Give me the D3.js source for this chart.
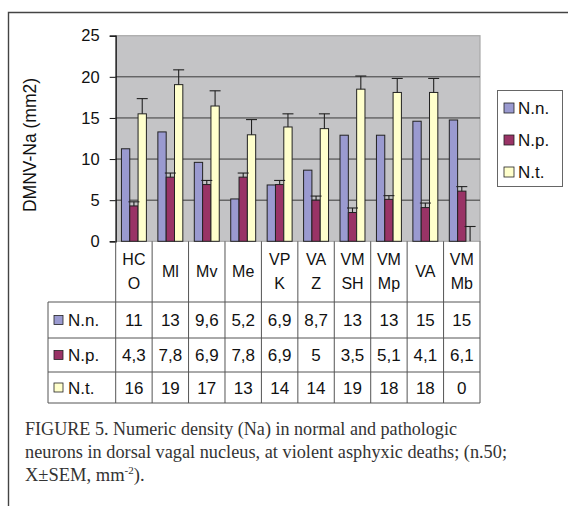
<!DOCTYPE html>
<html>
<head>
<meta charset="utf-8">
<script src="https://cdn.jsdelivr.net/npm/d3@7"></script>
<style>
  body { margin: 0; background: #fff; }
  svg { display: block; }
</style>
</head>
<body>
<svg id="chart" width="568" height="506"></svg>
<script>
// categories (header text split into lines as printed)
const categories = ['HCO', 'Ml', 'Mv', 'Me', 'VPK', 'VAZ', 'VMSH', 'VMMp', 'VA', 'VMMb'];
const headerLines = [['HC', 'O'], ['Ml'], ['Mv'], ['Me'], ['VP', 'K'], ['VA', 'Z'], ['VM', 'SH'], ['VM', 'Mp'], ['VA'], ['VM', 'Mb']];
const seriesNames = ['N.n.', 'N.p.', 'N.t.'];
const seriesColors = ['#9a9ad0', '#993366', '#ffffcc'];

// bar values
const nn = [11.25, 13.3, 9.6, 5.15, 6.85, 8.65, 12.9, 12.9, 14.6, 14.75];
const np = [4.3, 7.8, 6.9, 7.8, 6.9, 5.0, 3.5, 5.1, 4.1, 6.1];
const nt = [15.5, 19.05, 16.45, 12.95, 13.9, 13.7, 18.5, 18.1, 18.1, 0];
// SEM (no visible error bars on N.n.)
const npErr = [0.5, 0.5, 0.5, 0.5, 0.5, 0.5, 0.55, 0.45, 0.55, 0.55];
const ntErr = [1.85, 1.8, 1.85, 1.85, 1.6, 1.8, 1.6, 1.7, 1.7, 1.8];

// data table text as printed
const nnText = ['11', '13', '9,6', '5,2', '6,9', '8,7', '13', '13', '15', '15'];
const npText = ['4,3', '7,8', '6,9', '7,8', '6,9', '5', '3,5', '5,1', '4,1', '6,1'];
const ntText = ['16', '19', '17', '13', '14', '14', '19', '18', '18', '0'];

const yTicks = [0, 5, 10, 15, 20, 25];
const captionLines = [
  'FIGURE 5.  Numeric density (Na) in normal and pathologic',
  'neurons in dorsal vagal nucleus, at violent asphyxic deaths; (n.50;'
];

const svg = d3.select('#chart');
const font = '"Liberation Sans", Arial, sans-serif';
const serif = '"Liberation Serif", "Times New Roman", serif';

const plot = { left: 115.7, right: 480, top: 35.7, bottom: 241.3 };
const tableRows = [302, 338, 372, 403];
const tableLeft = 48;

const x = d3.scaleBand().domain(categories).range([plot.left, plot.right]).padding(0);
const x1 = d3.scaleBand().domain(seriesNames).range([0, x.bandwidth()]).paddingInner(0).paddingOuter(0.69);
const y = d3.scaleLinear().domain([0, 25]).range([plot.bottom, plot.top]);

// outer frame
svg.append('path')
  .attr('d', `M8.5,506 V12.5 H568`)
  .attr('fill', 'none')
  .attr('stroke', '#444')
  .attr('stroke-width', 1.4);

// plot background
svg.append('rect')
  .attr('x', plot.left).attr('y', plot.top)
  .attr('width', plot.right - plot.left).attr('height', plot.bottom - plot.top)
  .attr('fill', '#c4c4c6')
  .attr('stroke', '#a8a8a8')
  .attr('stroke-width', 1.2);

// gridlines
svg.append('g')
  .selectAll('line')
  .data(yTicks.filter(d => d > 0 && d < 25))
  .join('line')
  .attr('x1', plot.left).attr('x2', plot.right)
  .attr('y1', d => y(d)).attr('y2', d => y(d))
  .attr('stroke', '#2a2a2a')
  .attr('stroke-width', 0.9);

// y axis
const yAxis = svg.append('g')
  .attr('transform', `translate(${plot.left},0)`)
  .call(d3.axisLeft(y).tickValues(yTicks).tickSize(6).tickPadding(10));
yAxis.select('.domain').attr('stroke', '#111').attr('stroke-width', 1.2);
yAxis.selectAll('.tick line').attr('stroke', '#111');
yAxis.selectAll('.tick text')
  .attr('font-family', font)
  .attr('font-size', 16.5)
  .attr('fill', '#111');

svg.append('text')
  .attr('transform', 'translate(36,145) rotate(-90)')
  .attr('text-anchor', 'middle')
  .attr('font-family', font)
  .attr('font-size', 17.5)
  .attr('fill', '#111')
  .text('DMNV-Na (mm2)');

// bars
const seriesValues = [nn, np, nt];
const seriesErr = [null, npErr, ntErr];
const barData = [];
categories.forEach((c, i) => {
  seriesNames.forEach((s, k) => {
    barData.push({ cat: c, series: s, k, value: seriesValues[k][i], err: seriesErr[k] ? seriesErr[k][i] : null });
  });
});

svg.append('g')
  .selectAll('rect')
  .data(barData.filter(d => d.value > 0))
  .join('rect')
  .attr('x', d => x(d.cat) + x1(d.series))
  .attr('y', d => y(d.value))
  .attr('width', x1.bandwidth())
  .attr('height', d => y(0) - y(d.value))
  .attr('fill', d => seriesColors[d.k])
  .attr('stroke', '#222')
  .attr('stroke-width', 1);

// error bars
const errG = svg.append('g').attr('stroke', '#222').attr('stroke-width', 1.1);
barData.filter(d => d.err !== null).forEach(d => {
  const cx = x(d.cat) + x1(d.series) + x1.bandwidth() / 2;
  errG.append('line')
    .attr('x1', cx).attr('x2', cx)
    .attr('y1', y(d.value)).attr('y2', y(d.value + d.err));
  errG.append('line')
    .attr('x1', cx - 5.5).attr('x2', cx + 5.5)
    .attr('y1', y(d.value + d.err)).attr('y2', y(d.value + d.err));
});

// data table
const tbl = svg.append('g');
const lineColor = '#555';
tbl.selectAll('line.h')
  .data(tableRows)
  .join('line')
  .attr('x1', tableLeft).attr('x2', plot.right)
  .attr('y1', d => d).attr('y2', d => d)
  .attr('stroke', lineColor).attr('stroke-width', 1);
tbl.append('line')
  .attr('x1', tableLeft).attr('x2', tableLeft)
  .attr('y1', tableRows[0]).attr('y2', tableRows[3])
  .attr('stroke', lineColor);
tbl.selectAll('line.v')
  .data(categories.concat(['end']))
  .join('line')
  .attr('x1', (d, i) => plot.left + i * x.bandwidth())
  .attr('x2', (d, i) => plot.left + i * x.bandwidth())
  .attr('y1', plot.bottom).attr('y2', tableRows[3])
  .attr('stroke', lineColor).attr('stroke-width', 1);

// header labels
categories.forEach((c, i) => {
  const lines = headerLines[i];
  const cx = x(c) + x.bandwidth() / 2;
  const mid = (plot.bottom + tableRows[0]) / 2;
  lines.forEach((t, j) => {
    const dy = lines.length === 1 ? 0 : (j === 0 ? -12 : 12);
    tbl.append('text')
      .attr('x', cx).attr('y', mid + dy)
      .attr('dy', '0.36em')
      .attr('text-anchor', 'middle')
      .attr('font-family', font)
      .attr('font-size', 16)
      .attr('fill', '#111')
      .text(t);
  });
});

// value rows
const rowText = [nnText, npText, ntText];
rowText.forEach((arr, r) => {
  const cy = (tableRows[r] + tableRows[r + 1]) / 2;
  tbl.append('rect')
    .attr('x', 54).attr('y', cy - 4.5)
    .attr('width', 9).attr('height', 9)
    .attr('fill', seriesColors[r])
    .attr('stroke', '#222').attr('stroke-width', 0.8);
  tbl.append('text')
    .attr('x', 68).attr('y', cy)
    .attr('dy', '0.36em')
    .attr('font-family', font)
    .attr('font-size', 17)
    .attr('fill', '#111')
    .text(seriesNames[r]);
  arr.forEach((t, i) => {
    tbl.append('text')
      .attr('x', x(categories[i]) + x.bandwidth() / 2).attr('y', cy)
      .attr('dy', '0.36em')
      .attr('text-anchor', 'middle')
      .attr('font-family', font)
      .attr('font-size', 17)
      .attr('fill', '#111')
      .text(t);
  });
});

// legend
const lg = svg.append('g');
lg.append('rect')
  .attr('x', 497.5).attr('y', 90.5)
  .attr('width', 65).attr('height', 96)
  .attr('fill', '#fff')
  .attr('stroke', '#666').attr('stroke-width', 1);
seriesNames.forEach((s, k) => {
  const cy = 108 + k * 32;
  lg.append('rect')
    .attr('x', 504).attr('y', cy - 5)
    .attr('width', 10).attr('height', 10)
    .attr('fill', seriesColors[k])
    .attr('stroke', '#222').attr('stroke-width', 0.8);
  lg.append('text')
    .attr('x', 518).attr('y', cy)
    .attr('dy', '0.36em')
    .attr('font-family', font)
    .attr('font-size', 17)
    .attr('fill', '#111')
    .text(s);
});

// caption
const cap = svg.append('g')
  .attr('font-family', serif)
  .attr('font-size', 18.5)
  .attr('fill', '#333')
  .style('white-space', 'pre');
cap.append('text').attr('x', 25).attr('y', 435)
  .attr('textLength', 432).attr('lengthAdjust', 'spacingAndGlyphs')
  .text(captionLines[0]);
cap.append('text').attr('x', 25).attr('y', 458)
  .attr('textLength', 482).attr('lengthAdjust', 'spacingAndGlyphs')
  .text(captionLines[1]);
const l3 = cap.append('text').attr('x', 25).attr('y', 481);
l3.append('tspan').text('X±SEM, mm');
l3.append('tspan').attr('font-size', 11).attr('dy', -7).text('-2');
l3.append('tspan').attr('dy', 7).text(').');
</script>
</body>
</html>
